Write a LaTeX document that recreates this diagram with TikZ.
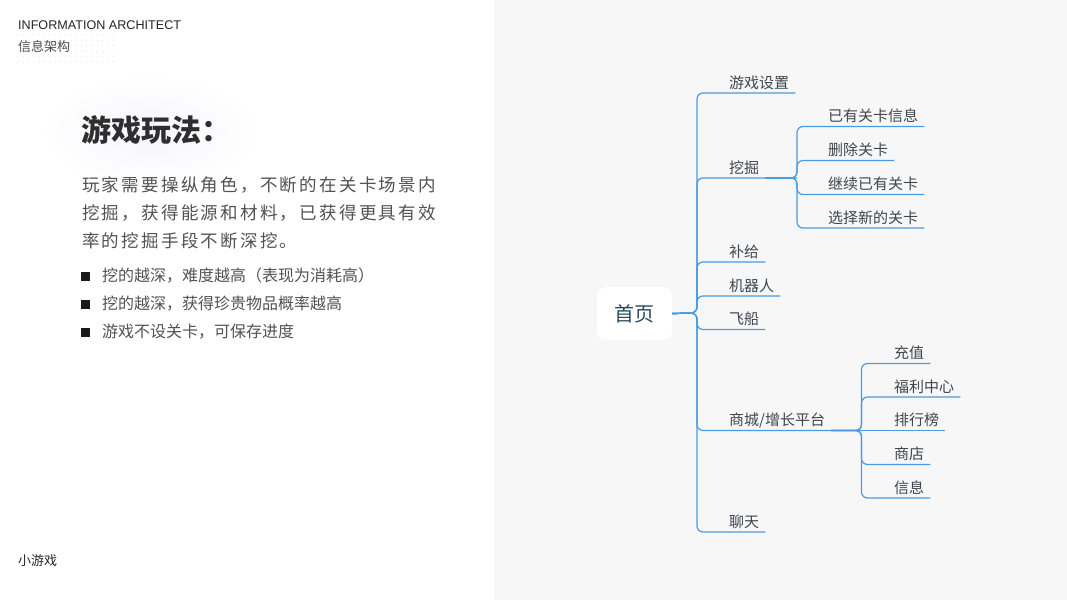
\documentclass[tikz,border=0pt]{standalone}
\usepackage{fontspec}
\setmainfont{Noto Sans CJK SC}
\newfontfamily\latinfont{Liberation Sans}
\usetikzlibrary{calc}
\definecolor{panel}{HTML}{F7F7F7}
\definecolor{linkblue}{HTML}{4A9BE2}
\definecolor{itemtext}{HTML}{3E4650}
\definecolor{roottext}{HTML}{2B4A5C}
\definecolor{halo}{HTML}{F6F5FB}
\def\fs#1{\fontsize{#1}{#1}\selectfont}
\tikzset{
	link/.style={draw=linkblue, line width=1.2pt, rounded corners=6pt},
	item/.style={anchor=south west, inner xsep=6pt, inner ysep=4.5pt, text depth=0pt, text=itemtext, font=\fs{15}},
	rootbox/.style={fill=white, rounded corners=9pt, minimum width=75pt, minimum height=53pt, inner sep=0pt, text=roottext, font=\fs{20}},
	lefttext/.style={anchor=base west, inner sep=0pt},
	bulletsq/.style={fill=black!90, minimum size=9pt, inner sep=0pt},
}

\begin{document}
\begin{tikzpicture}[x=1pt, y=-1pt]
				\useasboundingbox (0,0) rectangle (1067,600);
				\fill[white] (0,0) rectangle (494,600);
				\fill[panel] (494,0) rectangle (1067,600);
				
				\foreach \i in {0,...,5}
					\foreach \j in {0,...,18}
						\fill[black!10] (18+\j*5.3, 35+\i*5.4) circle (0.6);
				\shade[inner color=halo, outer color=white] (150,132) ellipse (110 and 58);
				
				\node[lefttext, font=\latinfont\fs{12.6}, text=black!85] (head) at (18,29) {INFORMATION ARCHITECT};
				\node[lefttext, font=\fs{13}, text=black!70] (subhead) at (18,51.4) {信息架构};
				\node[lefttext, font=\fs{30}\bfseries, text=black!82] (title) at (81,141) {游戏玩法：};
				
				\node[lefttext, font=\fs{17.5}\addfontfeature{LetterSpace=13}, text=black!68] (line1) at (82,191.5) {玩家需要操纵角色，不断的在关卡场景内};
				\node[lefttext, font=\fs{17.5}\addfontfeature{LetterSpace=13}, text=black!68] (line2) at (82,219.5) {挖掘，获得能源和材料，已获得更具有效};
				\node[lefttext, font=\fs{17.5}\addfontfeature{LetterSpace=13}, text=black!68] (line3) at (82,247) {率的挖掘手段不断深挖。};
				
				\node[bulletsq] (b1) at (85,276.5) {};
				\node[bulletsq] (b2) at (85,304.5) {};
				\node[bulletsq] (b3) at (85,332.5) {};
				\node[lefttext, font=\fs{16}, text=black!68] (t1) at (102,281) {挖的越深，难度越高（表现为消耗高）};
				\node[lefttext, font=\fs{16}, text=black!68] (t2) at (102,309) {挖的越深，获得珍贵物品概率越高};
				\node[lefttext, font=\fs{16}, text=black!68] (t3) at (102,337) {游戏不设关卡，可保存进度};
				
				\node[lefttext, font=\fs{13}, text=black!85] (foot) at (18,565.5) {小游戏};
				
				\node[rootbox] (home) at (634.5,313.5) {首页};
				\coordinate (hub) at (697,313);
				
				\node[item] (setup) at (723,93) {游戏设置};
				\node[item] (dig) at (723,178) {挖掘};
				\node[item] (supply) at (723,262) {补给};
				\node[item] (robot) at (723,296) {机器人};
				\node[item] (ship) at (723,329.5) {飞船};
				\node[item] (mall) at (723,430.5) {商城/增长平台};
				\node[item] (chat) at (723,532) {聊天};
				\coordinate (dighub) at (797,178);
				\coordinate (mallhub) at (861.5,430.5);
				
				\node[item] (known) at (822,126.5) {已有关卡信息};
				\node[item] (delete) at (822,160.5) {删除关卡};
				\node[item] (resume) at (822,194.5) {继续已有关卡};
				\node[item] (choose) at (822,228) {选择新的关卡};
				
				\node[item] (charge) at (888,363.5) {充值};
				\node[item] (bonus) at (888,397) {福利中心};
				\node[item] (rank) at (888,430.5) {排行榜};
				\node[item] (shop) at (888,464.5) {商店};
				\node[item] (msg) at (888,498) {信息};
				
				\draw[link] (home.east) -- (hub) |- (setup.south west) -- (setup.south east);
				\draw[link] (home.east) -- (hub) |- (dig.south west) -- (dighub);
				\draw[link] (home.east) -- (hub) |- (supply.south west) -- (supply.south east);
				\draw[link] (home.east) -- (hub) |- (robot.south west) -- (robot.south east);
				\draw[link] (home.east) -- (hub) |- (ship.south west) -- (ship.south east);
				\draw[link] (home.east) -- (hub) |- (mall.south west) -- (mallhub);
				\draw[link] (home.east) -- (hub) |- (chat.south west) -- (chat.south east);
				
				\draw[link] (dig.south east) -- (dighub) |- (known.south west) -- (known.south east);
				\draw[link] (dig.south east) -- (dighub) |- (delete.south west) -- (delete.south east);
				\draw[link] (dig.south east) -- (dighub) |- (resume.south west) -- (resume.south east);
				\draw[link] (dig.south east) -- (dighub) |- (choose.south west) -- (choose.south east);
				
				\draw[link] (mall.south east) -- (mallhub) |- (charge.south west) -- (charge.south east);
				\draw[link] (mall.south east) -- (mallhub) |- (bonus.south west) -- (bonus.south east);
				\draw[link] (mall.south east) -- (mallhub) -- (rank.south west) -- (rank.south east);
				\draw[link] (mall.south east) -- (mallhub) |- (shop.south west) -- (shop.south east);
				\draw[link] (mall.south east) -- (mallhub) |- (msg.south west) -- (msg.south east);
			\end{tikzpicture}
\end{document}
